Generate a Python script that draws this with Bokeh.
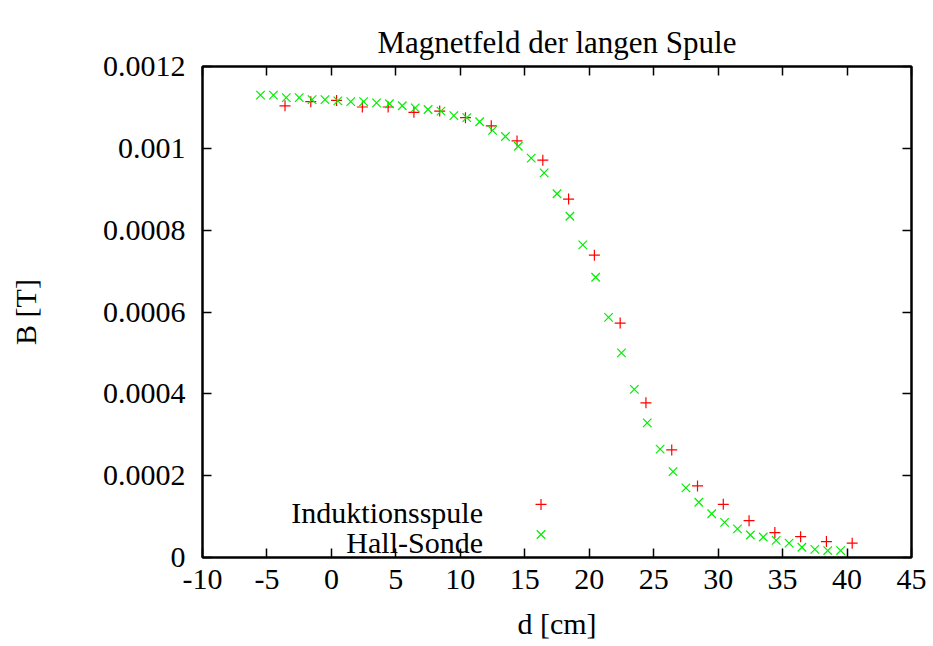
from bokeh.plotting import figure
from bokeh.models import (LinearAxis, FixedTicker, PrintfTickFormatter, Label, Range1d)
from bokeh.embed import file_html
from bokeh.resources import INLINE

# ---- data ----
title_text = "Magnetfeld der langen Spule"
xlabel_text = "d [cm]"
ylabel_text = "B [T]"
series_names = ["Induktionsspule", "Hall-Sonde"]

ind_d = [-3.6, -1.6, 0.4, 2.4, 4.4, 6.4, 8.4, 10.4, 12.4, 14.4, 16.4, 18.4,
         20.4, 22.4, 24.4, 26.4, 28.4, 30.4, 32.4, 34.4, 36.4, 38.4, 40.4]
ind_B = [0.001104, 0.001114, 0.001117, 0.001101, 0.001101, 0.001088, 0.001091,
         0.001075, 0.001055, 0.001018, 0.000971, 0.000876, 0.000739, 0.000573,
         0.000378, 0.000263, 0.000175, 0.000130, 0.000090, 0.000061, 0.000051,
         0.000039, 0.000035]

hall_d = [-5.5, -4.5, -3.5, -2.5, -1.5, -0.5, 0.5, 1.5, 2.5, 3.5, 4.5, 5.5,
          6.5, 7.5, 8.5, 9.5, 10.5, 11.5, 12.5, 13.5, 14.5, 15.5, 16.5, 17.5,
          18.5, 19.5, 20.5, 21.5, 22.5, 23.5, 24.5, 25.5, 26.5, 27.5, 28.5,
          29.5, 30.5, 31.5, 32.5, 33.5, 34.5, 35.5, 36.5, 37.5, 38.5, 39.5]
hall_B = [0.001130, 0.001130, 0.001124, 0.001124, 0.001119, 0.001119, 0.001116,
          0.001114, 0.001114, 0.001111, 0.001109, 0.001104, 0.001099, 0.001095,
          0.001091, 0.001080, 0.001075, 0.001065, 0.001044, 0.001029, 0.001005,
          0.000976, 0.000940, 0.000889, 0.000834, 0.000764, 0.000685, 0.000587,
          0.000500, 0.000411, 0.000329, 0.000265, 0.000210, 0.000170, 0.000135,
          0.000107, 0.000086, 0.000070, 0.000055, 0.000050, 0.000042, 0.000035,
          0.000025, 0.000020, 0.000017, 0.000017]

x_ticks = [-10, -5, 0, 5, 10, 15, 20, 25, 30, 35, 40, 45]
y_ticks = [0, 0.0002, 0.0004, 0.0006, 0.0008, 0.001, 0.0012]

# ---- style ----
FONT = "Liberation Serif"
FS = "30px"
RED = "#ff0000"
GREEN = "#00ee00"

p = figure(frame_width=709, frame_height=491,
           min_border_left=202, min_border_right=22,
           min_border_top=66, min_border_bottom=89,
           x_range=Range1d(x_ticks[0], x_ticks[-1]),
           y_range=Range1d(y_ticks[0], y_ticks[-1]),
           title=title_text,
           output_backend="svg", toolbar_location=None)
p.title.align = "center"
p.title.vertical_align = "top"
p.title.text_font = FONT
p.title.text_font_size = "31px"
p.title.text_font_style = "normal"
p.title.text_color = "black"
p.title.standoff = 10
p.xgrid.visible = False
p.ygrid.visible = False
p.background_fill_color = "white"
p.border_fill_color = "white"
p.outline_line_color = "black"
p.outline_line_width = 2


def style_axis(ax, ticks, show_labels, standoff):
    ax.ticker = FixedTicker(ticks=ticks, minor_ticks=[])
    ax.axis_line_color = "black"
    ax.axis_line_width = 2
    ax.major_tick_in = 9
    ax.major_tick_out = 0
    ax.major_tick_line_width = 1.5
    ax.minor_tick_in = 0
    ax.minor_tick_out = 0
    ax.major_label_text_font = FONT
    ax.major_label_text_color = "black"
    ax.major_label_standoff = standoff
    ax.axis_label_text_font = FONT
    ax.axis_label_text_font_size = FS
    ax.axis_label_text_font_style = "normal"
    ax.axis_label_text_color = "black"
    if show_labels:
        ax.major_label_text_font_size = FS
    else:
        ax.major_label_text_font_size = "0px"
        ax.major_label_text_alpha = 0


style_axis(p.xaxis[0], x_ticks, True, 12)
style_axis(p.yaxis[0], y_ticks, True, 17)
p.xaxis[0].formatter = PrintfTickFormatter(format="%d")
p.yaxis[0].formatter = PrintfTickFormatter(format="%g")
p.xaxis[0].axis_label = xlabel_text
p.xaxis[0].axis_label_standoff = 15
p.yaxis[0].axis_label = ylabel_text
p.yaxis[0].axis_label_standoff = 58

top_ax = LinearAxis()
right_ax = LinearAxis()
style_axis(top_ax, x_ticks, False, 0)
style_axis(right_ax, y_ticks, False, 0)
p.add_layout(top_ax, "above")
p.add_layout(right_ax, "right")

p.scatter(ind_d, ind_B, marker="cross", size=11, line_color=RED, line_width=1.2)
p.scatter(hall_d, hall_B, marker="x", size=12, line_color=GREEN, line_width=1.2)

# legend (gnuplot style: text right-aligned, symbol on the right)
leg_text_x = 11.76
leg_sym_x = 16.26
leg_rows_y = [0.000110, 0.0000367]
leg_sym_y = [0.0001296, 0.0000562]
p.scatter([leg_sym_x], [leg_sym_y[0]], marker="cross", size=11, line_color=RED, line_width=1.2)
p.scatter([leg_sym_x], [leg_sym_y[1]], marker="x", size=12, line_color=GREEN, line_width=1.2)
for name, yy in zip(series_names, leg_rows_y):
    p.add_layout(Label(x=leg_text_x, y=yy, text=name, text_align="right",
                       text_baseline="alphabetic", text_font=FONT,
                       text_font_size=FS, text_color="black"))

open("out.html", "w").write(file_html(p, INLINE))
